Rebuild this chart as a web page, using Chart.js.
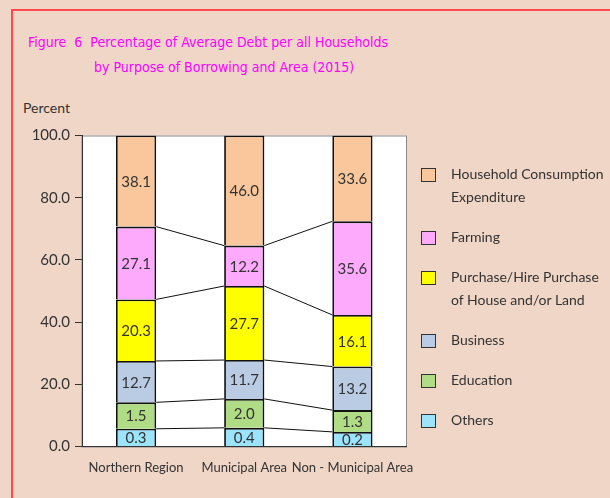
<!DOCTYPE html>
<html lang="en">
<head>
<meta charset="UTF-8" />
<title>Percentage of Average Debt per all Households</title>
<script src="https://cdn.jsdelivr.net/npm/chart.js"></script>
<style>
  body { margin: 0; background: #f0d6c6; width: 610px; height: 498px; overflow: hidden; position: relative; font-family: Lato, sans-serif; color: #333; }
  .frame { position: absolute; left: 11px; top: 9px; width: 700px; height: 600px; border: 2px solid #ff4a4a; }
  .title { position: absolute; color: #ff00ff; font-family: "DejaVu Sans Condensed", sans-serif; font-size: 14px; white-space: pre; line-height: 17px; }
  #t1 { left: 28px; top: 34px; }
  #t2 { left: 94px; top: 59px; }
  .unit { position: absolute; left: 23px; top: 99px; font-size: 14px; }
  #wrap { position: absolute; left: 0; top: 0; width: 610px; height: 498px; }
  #legend { position: absolute; left: 421px; top: 162px; font-size: 14px; }
  .item { display: flex; align-items: flex-start; margin-bottom: 17px; line-height: 23px; }
  .box { width: 13px; height: 12px; border: 1px solid #333; margin-top: 6px; margin-right: 15px; flex: none; }
</style>
</head>
<body>
<div class="frame"></div>
<div class="title" id="t1">Figure  6  Percentage of Average Debt per all Households</div>
<div class="title" id="t2">by Purpose of Borrowing and Area (2015)</div>
<div class="unit">Percent</div>
<div id="wrap"><canvas id="chart"></canvas></div>
<div id="legend"></div>

<script>
const areas = ["Northern Region", "Municipal Area", "Non - Municipal Area"];
// stack order bottom to top
const purposes = [
  ["Others"],
  ["Education"],
  ["Business"],
  ["Purchase/Hire Purchase", "of House and/or Land"],
  ["Farming"],
  ["Household Consumption", "Expenditure"]
];
const colors = ["#9ce4fc", "#b1dc86", "#b9cce3", "#ffff00", "#fdaafd", "#f9c79b"];

// printed percentages
const others    = [0.3, 0.4, 0.2];
const education = [1.5, 2.0, 1.3];
const business  = [12.7, 11.7, 13.2];
const house     = [20.3, 27.7, 16.1];
const farming   = [27.1, 12.2, 35.6];
const household = [38.1, 46.0, 33.6];

// segment heights as drawn in the figure (the original is not drawn to scale)
const othersDrawn    = [5.7, 6.0, 4.7];
const educationDrawn = [8.5, 9.3, 7.0];
const businessDrawn  = [13.3, 12.5, 14.0];
const houseDrawn     = [19.8, 23.8, 16.6];
const farmingDrawn   = [23.4, 13.0, 30.1];
const householdDrawn = [29.3, 35.4, 27.6];

const yTicks = [0, 20, 40, 60, 80, 100];

const printed = [others, education, business, house, farming, household];
const drawn = [othersDrawn, educationDrawn, businessDrawn, houseDrawn, farmingDrawn, householdDrawn];

// plot background and frame
const plotBg = {
  id: 'plotBg',
  beforeDraw(chart) {
    const { ctx, chartArea: a } = chart;
    ctx.save();
    ctx.fillStyle = '#ffffff';
    ctx.fillRect(a.left, a.top, a.right - a.left, a.bottom - a.top);
    ctx.strokeStyle = '#8a8a8a';
    ctx.lineWidth = 1;
    ctx.strokeRect(a.left, a.top + 0.5, a.right - a.left, a.bottom - a.top);
    ctx.restore();
  }
};

// lines joining segment tops + value labels
const connectors = {
  id: 'connectors',
  afterDatasetsDraw(chart) {
    const ctx = chart.ctx;
    const n = chart.data.datasets.length;
    ctx.save();
    ctx.strokeStyle = '#111';
    ctx.lineWidth = 1;
    for (let di = 0; di < n - 1; di++) {
      const bars = chart.getDatasetMeta(di).data;
      for (let i = 0; i < bars.length - 1; i++) {
        const a = bars[i], b = bars[i + 1];
        ctx.beginPath();
        ctx.moveTo(a.x + a.width / 2, a.y);
        ctx.lineTo(b.x - b.width / 2, b.y);
        ctx.stroke();
      }
    }
    ctx.fillStyle = '#333';
    ctx.font = '15px Lato';
    ctx.textAlign = 'center';
    ctx.textBaseline = 'middle';
    for (let di = 0; di < n; di++) {
      const bars = chart.getDatasetMeta(di).data;
      bars.forEach((el, i) => {
        ctx.fillText(printed[di][i].toFixed(1), el.x, (el.y + el.base) / 2 + 1);
      });
    }
    ctx.restore();
  }
};

new Chart(document.getElementById('chart'), {
  type: 'bar',
  data: {
    labels: areas,
    datasets: purposes.map((p, i) => ({
      label: p.join(' '),
      data: drawn[i],
      backgroundColor: colors[i],
      borderColor: '#111',
      borderWidth: 1.8,
      barPercentage: 0.372,
      categoryPercentage: 1
    }))
  },
  options: {
    responsive: true,
    maintainAspectRatio: false,
    animation: false,
    layout: { padding: { left: 0, right: 203.5, top: 135.5, bottom: 0 } },
    plugins: { legend: { display: false }, tooltip: { enabled: false } },
    scales: {
      x: {
        stacked: true,
        grid: { display: false, drawTicks: false },
        border: { color: '#333', width: 1 },
        ticks: { color: '#333', font: { family: 'Lato', size: 13 }, padding: 14, maxRotation: 0, autoSkip: false },
        afterFit(s) { s.height = 51.5; }
      },
      y: {
        stacked: true,
        min: 0,
        max: 100,
        afterBuildTicks(s) { s.ticks = yTicks.map(v => ({ value: v })); },
        grid: { drawOnChartArea: false, tickLength: 7, tickColor: '#333' },
        border: { color: '#333', width: 1 },
        ticks: { color: '#333', font: { family: 'Lato', size: 15 }, padding: 5, callback: v => v.toFixed(1) },
        afterFit(s) { s.width = 82; }
      }
    }
  },
  plugins: [plotBg, connectors]
});

// legend, top item first
const legend = document.getElementById('legend');
for (let i = purposes.length - 1; i >= 0; i--) {
  const item = document.createElement('div');
  item.className = 'item';
  const box = document.createElement('div');
  box.className = 'box';
  box.style.background = colors[i];
  const txt = document.createElement('div');
  txt.innerHTML = purposes[i].join('<br>');
  item.appendChild(box);
  item.appendChild(txt);
  legend.appendChild(item);
}
</script>
</body>
</html>
